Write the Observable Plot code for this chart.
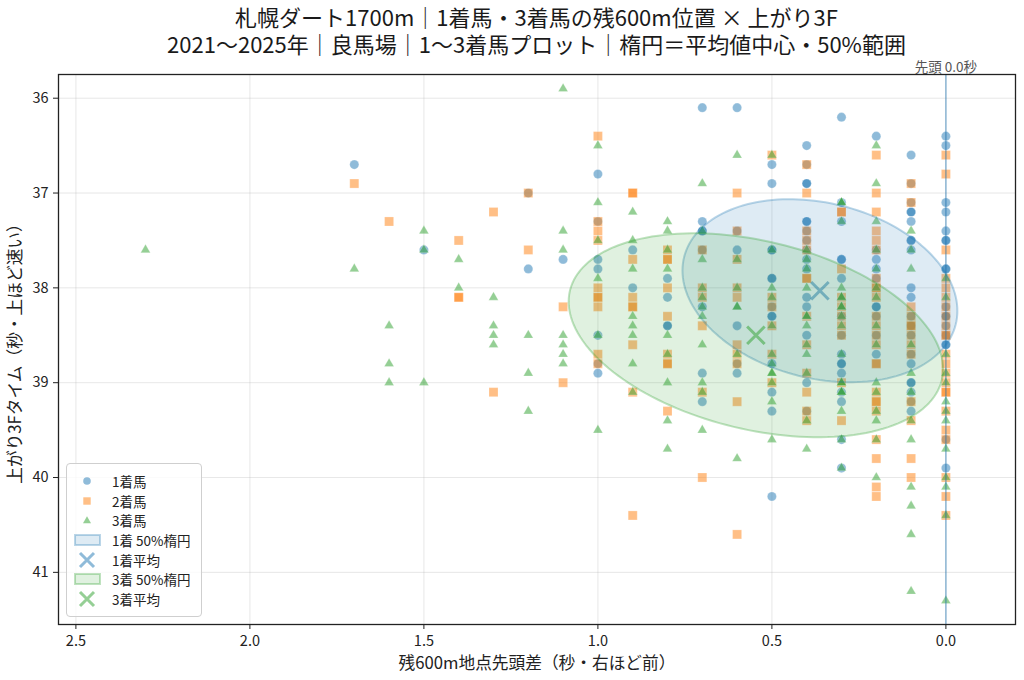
<!DOCTYPE html>
<html><head><meta charset="utf-8">
<script src="https://cdn.jsdelivr.net/npm/d3@7"></script>
<script src="https://cdn.jsdelivr.net/npm/@observablehq/plot@0.6"></script>
<style>
body{margin:0;background:#fff;font-family:'Noto Sans CJK JP','Noto Sans',sans-serif;}
#wrap{position:relative;width:1024px;height:680px;overflow:hidden;background:#fff}
.tline{position:absolute;left:58px;width:957px;height:24px;text-align:center;font-size:22px;line-height:24px;color:#1a1a1a;white-space:nowrap}
#chart{position:absolute;left:0;top:60px}
#legend{position:absolute;left:66px;top:463px;width:134px;height:152px;border:1px solid #cfcfcf;border-radius:4px;background:rgba(255,255,255,0.8);}
.row{position:absolute;left:0;height:20px;display:flex;align-items:center;font-size:13.5px;color:#222;white-space:nowrap;font-family:'Noto Sans CJK JP','Noto Sans',sans-serif}
.row svg{width:40px;height:20px;margin-right:5px;flex:none}
</style>
</head><body>
<div id="wrap">
  <div id="t1" class="tline" style="top:4px"></div>
  <div id="t2" class="tline" style="top:31px"></div>
  <div id="chart"></div>
  <div id="legend"></div>
</div>
<script>
const titleLines = ["札幌ダート1700m｜1着馬・3着馬の残600m位置 × 上がり3F", "2021～2025年｜良馬場｜1～3着馬プロット｜楕円＝平均値中心・50%範囲"];
const xLabel = "残600m地点先頭差（秒・右ほど前）";
const yLabel = "上がり3Fタイム（秒・上ほど速い）";
const leaderLabel = "先頭 0.0秒";
const xTicks = [2.5, 2.0, 1.5, 1.0, 0.5, 0.0];
const yTicks = [36, 37, 38, 39, 40, 41];
const xDomain = [2.55, -0.2];
const yDomain = [41.55, 35.75];

// [残600m先頭差, 上がり3F]
const first = [
[1.7,36.7],[1.5,37.6],[1.2,37.0],[1.2,37.8],[1.1,37.7],
[1.0,36.8],[1.0,37.3],[1.0,37.7],[1.0,37.8],[1.0,38.5],[1.0,38.8],[1.0,38.9],
[0.9,37.6],[0.9,38.0],
[0.8,37.9],[0.8,38.1],[0.8,38.4],[0.8,38.4],
[0.7,36.1],[0.7,37.3],[0.7,37.4],[0.7,37.4],[0.7,37.6],[0.7,38.2],[0.7,38.9],[0.7,39.2],
[0.6,36.1],[0.6,37.4],[0.6,37.6],[0.6,38.4],[0.6,38.8],[0.6,38.9],
[0.5,36.7],[0.5,36.9],[0.5,37.6],[0.5,37.6],[0.5,37.9],[0.5,37.9],[0.5,38.2],[0.5,38.3],[0.5,38.3],[0.5,38.8],[0.5,39.1],[0.5,39.3],[0.5,40.2],
[0.4,36.5],[0.4,36.7],[0.4,36.9],[0.4,36.9],[0.4,37.3],[0.4,37.3],[0.4,37.4],[0.4,37.5],[0.4,37.6],[0.4,37.7],[0.4,37.8],[0.4,38.1],[0.4,38.2],[0.4,38.5],[0.4,39.0],[0.4,39.3],
[0.3,36.2],[0.3,37.1],[0.3,37.3],[0.3,37.7],[0.3,37.7],[0.3,37.9],[0.3,38.3],[0.3,38.5],[0.3,38.7],[0.3,38.8],[0.3,38.8],[0.3,38.9],[0.3,39.1],[0.3,39.2],[0.3,39.6],[0.3,39.9],
[0.2,36.4],[0.2,37.6],[0.2,37.7],[0.2,37.8],[0.2,37.9],[0.2,38.2],[0.2,38.2],[0.2,38.3],[0.2,38.5],[0.2,38.7],
[0.1,36.6],[0.1,36.9],[0.1,37.1],[0.1,37.2],[0.1,37.2],[0.1,37.3],[0.1,37.5],[0.1,37.5],[0.1,37.6],[0.1,38.0],[0.1,38.1],[0.1,38.3],[0.1,38.4],[0.1,38.5],[0.1,38.7],[0.1,38.8],[0.1,39.0],[0.1,39.0],[0.1,39.1],[0.1,39.2],[0.1,39.3],
[0.0,36.4],[0.0,36.5],[0.0,37.1],[0.0,37.2],[0.0,37.4],[0.0,37.5],[0.0,37.5],[0.0,37.8],[0.0,37.8],[0.0,38.2],[0.0,38.3],[0.0,38.3],[0.0,38.4],[0.0,38.5],[0.0,38.6],[0.0,38.6],[0.0,39.6],[0.0,39.9]
];
const second = [
[1.7,36.9],[1.6,37.3],[1.4,37.5],[1.4,38.1],[1.4,38.1],[1.3,37.2],[1.3,39.1],[1.2,37.0],[1.2,37.6],[1.1,38.2],[1.1,39.0],
[1.0,36.4],[1.0,37.3],[1.0,37.4],[1.0,37.5],[1.0,38.0],[1.0,38.1],[1.0,38.1],[1.0,38.2],[1.0,38.7],[1.0,38.8],
[0.9,37.0],[0.9,37.0],[0.9,37.7],[0.9,38.1],[0.9,38.2],[0.9,38.2],[0.9,38.6],[0.9,39.1],[0.9,40.4],
[0.8,37.6],[0.8,37.7],[0.8,37.7],[0.8,38.0],[0.8,38.3],[0.8,38.7],[0.8,38.8],[0.8,38.8],[0.8,39.3],
[0.7,37.6],[0.7,38.0],[0.7,38.1],[0.7,38.4],[0.7,39.1],[0.7,40.0],
[0.6,37.0],[0.6,37.4],[0.6,37.7],[0.6,38.0],[0.6,38.1],[0.6,38.6],[0.6,38.7],[0.6,38.8],[0.6,39.2],[0.6,40.6],
[0.5,36.6],[0.5,38.1],[0.5,38.2],[0.5,38.4],[0.5,38.7],[0.5,39.0],
[0.4,36.7],[0.4,37.0],[0.4,37.4],[0.4,37.5],[0.4,37.6],[0.4,37.9],[0.4,37.9],[0.4,38.3],[0.4,38.6],[0.4,38.9],[0.4,39.1],[0.4,39.3],[0.4,39.4],
[0.3,37.2],[0.3,37.2],[0.3,37.8],[0.3,38.1],[0.3,38.2],[0.3,38.3],[0.3,38.4],[0.3,38.5],[0.3,39.0],[0.3,39.4],
[0.2,36.6],[0.2,37.0],[0.2,37.2],[0.2,37.4],[0.2,37.5],[0.2,37.6],[0.2,37.9],[0.2,38.0],[0.2,38.0],[0.2,38.1],[0.2,38.3],[0.2,38.4],[0.2,38.5],[0.2,38.6],[0.2,38.8],[0.2,38.8],[0.2,39.1],[0.2,39.2],[0.2,39.2],[0.2,39.3],[0.2,39.6],[0.2,39.8],[0.2,40.1],[0.2,40.2],
[0.1,36.9],[0.1,37.1],[0.1,38.2],[0.1,38.3],[0.1,38.4],[0.1,38.4],[0.1,38.5],[0.1,38.6],[0.1,38.7],[0.1,39.2],[0.1,39.4],[0.1,39.8],[0.1,40.0],
[0.0,36.6],[0.0,36.8],[0.0,37.6],[0.0,37.9],[0.0,38.0],[0.0,38.1],[0.0,38.2],[0.0,38.3],[0.0,38.4],[0.0,38.5],[0.0,38.5],[0.0,38.7],[0.0,38.8],[0.0,38.9],[0.0,39.0],[0.0,39.1],[0.0,39.1],[0.0,39.3],[0.0,39.5],[0.0,39.6],[0.0,40.0],[0.0,40.2],[0.0,40.4]
];
const third = [
[2.3,37.6],[1.7,37.8],[1.6,38.4],[1.6,38.8],[1.6,39.0],[1.5,37.4],[1.5,37.6],[1.5,39.0],[1.4,37.7],[1.4,38.0],
[1.3,38.1],[1.3,38.4],[1.3,38.5],[1.3,38.6],[1.2,38.5],[1.2,38.9],[1.2,39.3],
[1.1,35.9],[1.1,37.4],[1.1,37.6],[1.1,38.5],[1.1,38.6],[1.1,38.7],[1.1,38.8],
[1.0,36.5],[1.0,37.1],[1.0,37.5],[1.0,37.9],[1.0,38.5],[1.0,39.5],
[0.9,37.2],[0.9,37.5],[0.9,37.8],[0.9,38.3],[0.9,38.4],[0.9,38.5],[0.9,38.8],[0.9,39.1],
[0.8,37.3],[0.8,37.4],[0.8,37.6],[0.8,37.8],[0.8,38.5],[0.8,38.7],[0.8,39.0],[0.8,39.4],[0.8,39.7],
[0.7,36.9],[0.7,37.4],[0.7,37.7],[0.7,38.0],[0.7,38.1],[0.7,38.2],[0.7,38.3],[0.7,38.6],[0.7,39.0],[0.7,39.1],[0.7,39.5],
[0.6,36.6],[0.6,37.7],[0.6,38.0],[0.6,38.2],[0.6,38.2],[0.6,38.7],[0.6,39.8],
[0.5,36.6],[0.5,37.6],[0.5,38.0],[0.5,38.1],[0.5,38.4],[0.5,38.7],[0.5,38.8],[0.5,38.9],[0.5,38.9],[0.5,39.0],[0.5,39.2],[0.5,39.6],
[0.4,37.6],[0.4,37.7],[0.4,37.8],[0.4,38.0],[0.4,38.3],[0.4,38.3],[0.4,38.4],[0.4,38.6],[0.4,38.7],[0.4,38.9],[0.4,39.4],[0.4,39.7],
[0.3,37.1],[0.3,37.1],[0.3,37.3],[0.3,38.0],[0.3,38.1],[0.3,38.1],[0.3,38.2],[0.3,38.2],[0.3,38.3],[0.3,38.4],[0.3,38.7],[0.3,39.0],[0.3,39.0],[0.3,39.1],[0.3,39.1],[0.3,39.3],[0.3,39.6],[0.3,39.9],
[0.2,36.5],[0.2,36.9],[0.2,37.3],[0.2,37.6],[0.2,37.8],[0.2,38.0],[0.2,38.1],[0.2,38.4],[0.2,38.6],[0.2,39.0],[0.2,39.1],[0.2,39.3],[0.2,39.4],[0.2,39.6],[0.2,40.0],
[0.1,37.4],[0.1,37.6],[0.1,37.8],[0.1,38.6],[0.1,38.9],[0.1,39.1],[0.1,39.4],[0.1,39.6],[0.1,40.1],[0.1,40.3],[0.1,40.6],[0.1,41.2],
[0.0,37.9],[0.0,38.1],[0.0,38.7],[0.0,38.9],[0.0,39.0],[0.0,39.2],[0.0,39.3],[0.0,39.4],[0.0,39.7],[0.0,40.0],[0.0,40.1],[0.0,40.4],[0.0,41.3]
];
// 50% ellipse parameters: centre, half extents, correlation
const firstMean = [0.362, 38.03];
const thirdMean = [0.546, 38.50];
const firstEllipse = {hx: 0.395, hy: 0.965, rho: -0.22};
const thirdEllipse = {hx: 0.538, hy: 1.075, rho: -0.33};

const C1 = "#1f77b4", C2 = "#ff7f0e", C3 = "#2ca02c";

function ellipsePoints(m, e) {
  const pts = [];
  const n = 160, s = Math.sqrt(1 - e.rho * e.rho);
  for (let i = 0; i < n; i++) {
    const t = 2 * Math.PI * i / n;
    pts.push([m[0] + e.hx * Math.cos(t), m[1] + e.hy * (e.rho * Math.cos(t) + s * Math.sin(t))]);
  }
  return pts;
}

document.getElementById("t1").textContent = titleLines[0];
document.getElementById("t2").textContent = titleLines[1];

const px = d => d[0], py = d => d[1];
const chart = Plot.plot({
  width: 1024, height: 620,
  marginLeft: 58, marginRight: 9, marginTop: 14, marginBottom: 56,
  x: {domain: xDomain},
  y: {domain: yDomain},
  style: {fontFamily: "'Noto Sans CJK JP','Noto Sans',sans-serif", fontSize: "14.5px", color: "#222", background: "white", overflow: "visible"},
  marks: [
    Plot.ruleX(xTicks, {stroke: "#b0b0b0", strokeOpacity: 0.3, strokeWidth: 1}),
    Plot.ruleY(yTicks, {stroke: "#b0b0b0", strokeOpacity: 0.3, strokeWidth: 1}),
    Plot.dot(first, {x: px, y: py, symbol: "circle", r: 4.6, fill: C1, fillOpacity: 0.5, stroke: "white", strokeOpacity: 0.4, strokeWidth: 0.6}),
    Plot.dot(second, {x: px, y: py, symbol: "square", r: 5.1, fill: C2, fillOpacity: 0.5, stroke: "white", strokeOpacity: 0.4, strokeWidth: 0.6}),
    Plot.dot(third, {x: px, y: py, symbol: "triangle", r: 3.6, fill: C3, fillOpacity: 0.5, stroke: "white", strokeOpacity: 0.4, strokeWidth: 0.6}),
    Plot.ruleX([0], {stroke: C1, strokeOpacity: 0.6, strokeWidth: 1.2}),
    Plot.line(ellipsePoints(firstMean, firstEllipse), {x: px, y: py, curve: "linear-closed", fill: C1, fillOpacity: 0.15, stroke: C1, strokeOpacity: 0.3, strokeWidth: 2}),
    Plot.dot([firstMean], {x: px, y: py, symbol: "times", r: 8, stroke: C1, strokeOpacity: 0.5, strokeWidth: 3}),
    Plot.line(ellipsePoints(thirdMean, thirdEllipse), {x: px, y: py, curve: "linear-closed", fill: C3, fillOpacity: 0.15, stroke: C3, strokeOpacity: 0.3, strokeWidth: 2}),
    Plot.dot([thirdMean], {x: px, y: py, symbol: "times", r: 8, stroke: C3, strokeOpacity: 0.5, strokeWidth: 3}),
    Plot.frame({stroke: "#222", strokeWidth: 1.3}),
    Plot.axisX({ticks: xTicks, tickFormat: d => d.toFixed(1), tickSize: 5, tickPadding: 6, label: null, fontSize: 14.5}),
    Plot.axisY({ticks: yTicks, tickFormat: d => String(d), tickSize: 5, tickPadding: 5, label: null, fontSize: 14.5}),
    Plot.text([leaderLabel], {x: () => 0, frameAnchor: "top", text: d => d, lineAnchor: "bottom", dy: -3, fill: "#555", fontSize: 13.5}),
    Plot.text([xLabel], {frameAnchor: "bottom", text: d => d, lineAnchor: "middle", dy: 39, fontSize: 16.7}),
    Plot.text([yLabel], {frameAnchor: "left", text: d => d, rotate: -90, lineAnchor: "middle", textAnchor: "middle", dx: -43, fontSize: 16.7})
  ]
});
document.getElementById("chart").appendChild(chart);

// legend
const legendItems = [
  {label: "1着馬", kind: "circle", color: C1},
  {label: "2着馬", kind: "square", color: C2},
  {label: "3着馬", kind: "triangle", color: C3},
  {label: "1着 50%楕円", kind: "patch", color: C1},
  {label: "1着平均", kind: "x", color: C1},
  {label: "3着 50%楕円", kind: "patch", color: C3},
  {label: "3着平均", kind: "x", color: C3}
];
const legend = document.getElementById("legend");
legendItems.forEach((it, i) => {
  const row = document.createElement("div");
  row.className = "row";
  row.style.top = (17 + i * 19.67 - 10) + "px";
  let sym = "";
  if (it.kind === "circle") sym = `<circle cx="20" cy="10" r="3.8" fill="${it.color}" fill-opacity="0.5"/>`;
  if (it.kind === "square") sym = `<rect x="16.3" y="6.3" width="7.4" height="7.4" fill="${it.color}" fill-opacity="0.5"/>`;
  if (it.kind === "triangle") sym = `<path d="M20,6.2L24,13.2L16,13.2Z" fill="${it.color}" fill-opacity="0.5"/>`;
  if (it.kind === "patch") sym = `<rect x="8" y="5" width="25" height="10" fill="${it.color}" fill-opacity="0.15" stroke="${it.color}" stroke-opacity="0.3" stroke-width="2"/>`;
  if (it.kind === "x") sym = `<path d="M13,3L27,17M27,3L13,17" stroke="${it.color}" stroke-opacity="0.5" stroke-width="3"/>`;
  row.innerHTML = `<svg viewBox="0 0 40 20">${sym}</svg><span>${it.label}</span>`;
  legend.appendChild(row);
});
</script>
</body></html>
